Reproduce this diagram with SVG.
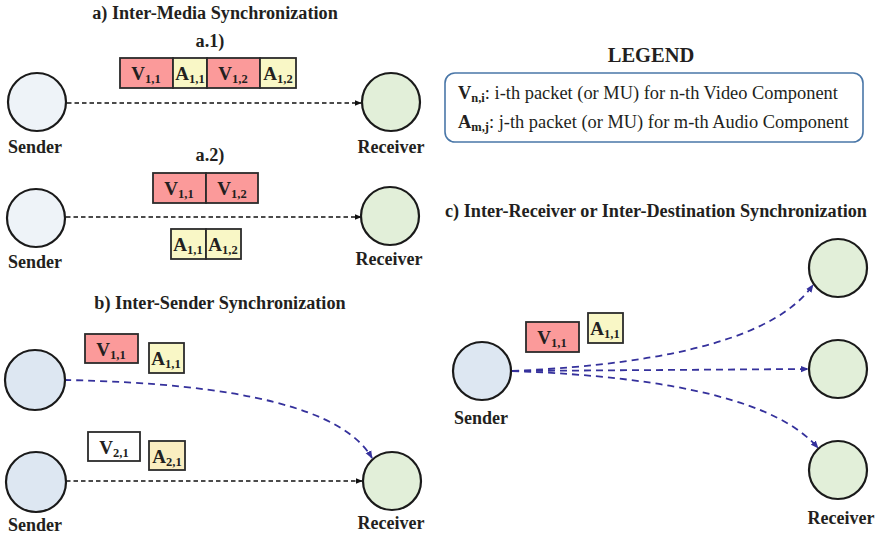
<svg xmlns="http://www.w3.org/2000/svg" width="881" height="539" viewBox="0 0 881 539">
  <style>
    text { font-family: "Liberation Serif", "Times New Roman", serif; fill: #231f20; }
    .title { font-size: 18.2px; font-weight: bold; }
    .lbl { font-size: 18px; font-weight: bold; text-anchor: middle; }
    .pk { font-size: 19px; font-weight: bold; text-anchor: middle; }
    .sub { font-size: 12.5px; }
    .leg { font-size: 18.4px; }
    .node { stroke: #1a1a1a; stroke-width: 2.2; }
    .snd0 { fill: #eef3f8; }
    .snd { fill: #dde7f2; }
    .rcv { fill: #e2efd9; }
    .box { stroke: #2b2b2b; stroke-width: 1.8; }
    .vid { fill: #fb9a9a; }
    .aud { fill: #f9f7c6; }
    .aud2 { fill: #faedc0; }
    .wht { fill: #ffffff; }
    .blk { fill: none; stroke: #111; stroke-width: 1.5; stroke-dasharray: 4.5 3; }
    .blu { fill: none; stroke: #35319c; stroke-width: 1.8; stroke-dasharray: 7 5; }
  </style>
  <defs>
    <marker id="ahb" viewBox="0 0 10 10" refX="9" refY="5" markerWidth="7" markerHeight="7" markerUnits="userSpaceOnUse" orient="auto">
      <path d="M0,1 L10,5 L0,9 z" fill="#111"/>
    </marker>
    <marker id="ahu" viewBox="0 0 10 10" refX="9" refY="5" markerWidth="8" markerHeight="8" markerUnits="userSpaceOnUse" orient="auto">
      <path d="M0,1 L10,5 L0,9 z" fill="#35319c"/>
    </marker>
  </defs>

  <!-- section titles -->
  <text class="title" x="215" y="19" text-anchor="middle">a) Inter-Media Synchronization</text>
  <text class="title" x="210" y="47" text-anchor="middle">a.1)</text>
  <text class="title" x="210" y="161" text-anchor="middle">a.2)</text>
  <text class="title" x="220" y="309" text-anchor="middle">b) Inter-Sender Synchronization</text>
  <text class="title" x="656" y="217" text-anchor="middle">c) Inter-Receiver or Inter-Destination Synchronization</text>

  <!-- legend -->
  <g id="legend">
    <text x="651" y="62" text-anchor="middle" style="font-size:20.5px;font-weight:bold">LEGEND</text>
    <rect x="445" y="73" width="418" height="69" rx="10" fill="#fff" stroke="#4a77a8" stroke-width="1.6"/>
    <text class="leg" x="458" y="99"><tspan font-weight="bold">V</tspan><tspan class="sub" font-weight="bold" dy="3">n,i</tspan><tspan dy="-3">: i-th packet (or MU) for n-th Video Component</tspan></text>
    <text class="leg" x="458" y="128"><tspan font-weight="bold">A</tspan><tspan class="sub" font-weight="bold" dy="3">m,j</tspan><tspan dy="-3">: j-th packet (or MU) for m-th Audio Component</tspan></text>
  </g>

  <!-- connectors -->
  <g id="connectors">
    <line class="blk" x1="67" y1="103" x2="361" y2="103" marker-end="url(#ahb)"/>
    <line class="blk" x1="66" y1="217" x2="361" y2="217" marker-end="url(#ahb)"/>
    <path class="blu" d="M64,380 Q330,385 372,458" marker-end="url(#ahu)"/>
    <line class="blk" x1="66" y1="481" x2="362" y2="481" marker-end="url(#ahb)"/>
    <path class="blu" d="M512,371 Q760,360 813,285" marker-end="url(#ahu)"/>
    <line class="blu" x1="512" y1="371" x2="808" y2="369" marker-end="url(#ahu)"/>
    <path class="blu" d="M512,371 Q760,380 818,448" marker-end="url(#ahu)"/>
  </g>

  <!-- a.1 -->
  <g id="a1-sender">
    <circle class="node snd0" cx="37" cy="102" r="29"/>
    <text class="lbl" x="35" y="153">Sender</text>
  </g>
  <g id="a1-receiver">
    <circle class="node rcv" cx="391" cy="102" r="29"/>
    <text class="lbl" x="391" y="153">Receiver</text>
  </g>
  <g id="a1-packets">
    <rect class="box vid" x="120" y="58" width="53" height="30"/>
    <rect class="box aud" x="173" y="58" width="34" height="30"/>
    <rect class="box vid" x="207" y="58" width="53" height="30"/>
    <rect class="box aud" x="260" y="58" width="36" height="30"/>
    <text class="pk" x="146" y="80">V<tspan class="sub" dy="3">1,1</tspan></text>
    <text class="pk" x="190" y="80">A<tspan class="sub" dy="3">1,1</tspan></text>
    <text class="pk" x="233" y="80">V<tspan class="sub" dy="3">1,2</tspan></text>
    <text class="pk" x="278" y="80">A<tspan class="sub" dy="3">1,2</tspan></text>
  </g>

  <!-- a.2 -->
  <g id="a2-sender">
    <circle class="node snd0" cx="36" cy="218" r="29"/>
    <text class="lbl" x="35" y="268">Sender</text>
  </g>
  <g id="a2-receiver">
    <circle class="node rcv" cx="390" cy="216" r="29"/>
    <text class="lbl" x="389" y="265">Receiver</text>
  </g>
  <g id="a2-packets">
    <rect class="box vid" x="153" y="173" width="53" height="30"/>
    <rect class="box vid" x="206" y="173" width="52" height="30"/>
    <rect class="box aud" x="171" y="229" width="35" height="30"/>
    <rect class="box aud" x="206" y="229" width="35" height="30"/>
    <text class="pk" x="179" y="195">V<tspan class="sub" dy="3">1,1</tspan></text>
    <text class="pk" x="232" y="195">V<tspan class="sub" dy="3">1,2</tspan></text>
    <text class="pk" x="188" y="251">A<tspan class="sub" dy="3">1,1</tspan></text>
    <text class="pk" x="223" y="251">A<tspan class="sub" dy="3">1,2</tspan></text>
  </g>

  <!-- b -->
  <g id="b-sender1">
    <circle class="node snd" cx="35" cy="380" r="30"/>
  </g>
  <g id="b-sender2">
    <circle class="node snd" cx="36" cy="482" r="30"/>
    <text class="lbl" x="35" y="531">Sender</text>
  </g>
  <g id="b-receiver">
    <circle class="node rcv" cx="392" cy="481" r="29"/>
    <text class="lbl" x="391" y="529">Receiver</text>
  </g>
  <g id="b-packets">
    <rect class="box vid" x="85" y="334" width="53" height="29"/>
    <rect class="box aud" x="149" y="343" width="35" height="30"/>
    <rect class="box wht" x="88" y="432" width="52" height="29"/>
    <rect class="box aud2" x="149" y="441" width="36" height="29"/>
    <text class="pk" x="111" y="356">V<tspan class="sub" dy="3">1,1</tspan></text>
    <text class="pk" x="166" y="365">A<tspan class="sub" dy="3">1,1</tspan></text>
    <text class="pk" x="114" y="454">V<tspan class="sub" dy="3">2,1</tspan></text>
    <text class="pk" x="167" y="463">A<tspan class="sub" dy="3">2,1</tspan></text>
  </g>

  <!-- c -->
  <g id="c-sender">
    <circle class="node snd" cx="482" cy="371" r="29"/>
    <text class="lbl" x="481" y="424">Sender</text>
  </g>
  <g id="c-receiver1">
    <circle class="node rcv" cx="838" cy="268" r="29"/>
  </g>
  <g id="c-receiver2">
    <circle class="node rcv" cx="838" cy="369" r="29"/>
  </g>
  <g id="c-receiver3">
    <circle class="node rcv" cx="838" cy="470" r="29"/>
    <text class="lbl" x="841" y="524">Receiver</text>
  </g>
  <g id="c-packets">
    <rect class="box vid" x="526" y="322" width="53" height="30"/>
    <rect class="box aud" x="588" y="313" width="35" height="30"/>
    <text class="pk" x="552" y="344">V<tspan class="sub" dy="3">1,1</tspan></text>
    <text class="pk" x="605" y="335">A<tspan class="sub" dy="3">1,1</tspan></text>
  </g>
</svg>
